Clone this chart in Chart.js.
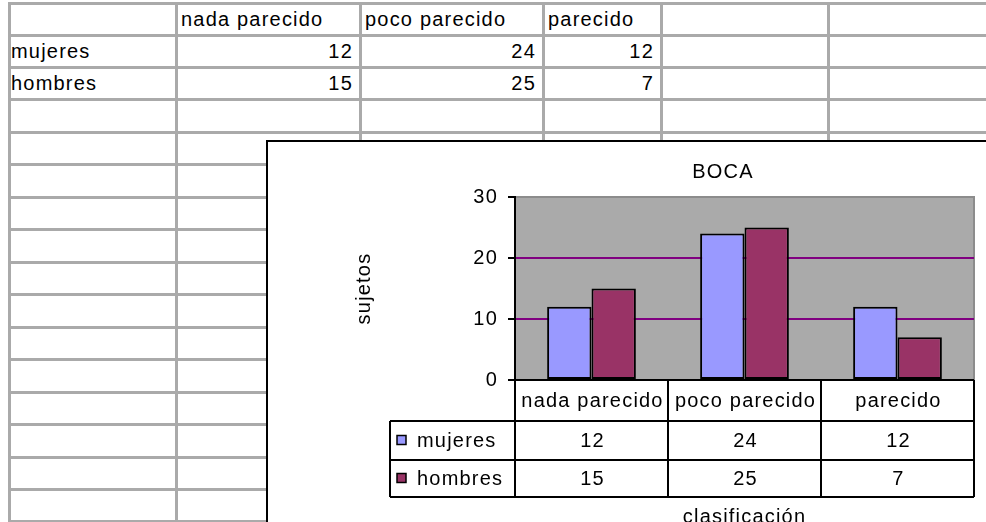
<!DOCTYPE html>
<html>
<head>
<meta charset="utf-8">
<script src="https://cdn.jsdelivr.net/npm/chart.js@4"></script>
<style>
html, body { margin: 0; padding: 0; background: #fff; overflow: hidden; width: 986px; height: 522px; }
body { position: relative; font-family: "Liberation Sans", Arial, sans-serif; font-size: 20px; letter-spacing: 1.2px; color: #000; }
.vl { position: absolute; top: 2px; width: 3px; height: 530px; background: #aaa; }
.hl { position: absolute; left: 8px; height: 3px; width: 990px; background: #aaa; }
.cell { position: absolute; white-space: nowrap; }
#chartBox { position: absolute; left: 266px; top: 140px; width: 730px; height: 400px; background: #fff;
            border-top: 2px solid #000; border-left: 2px solid #000; }
#chart { display: block; }
</style>
</head>
<body>
<div id="sheet"></div>
<div id="chartBox"><canvas id="chart" width="718" height="400"></canvas></div>
<script>
// ============================
// Data
// ============================
const categories  = ['nada parecido', 'poco parecido', 'parecido'];
const seriesNames = ['mujeres', 'hombres'];
const mujeres     = [12, 24, 12];
const hombres     = [15, 25, 7];
const yTicks      = [0, 10, 20, 30];
const chartTitle  = 'BOCA';
const yTitle      = 'sujetos';
const xTitle      = 'clasificación';

const FONT = '"Liberation Sans", Arial, sans-serif';
const FONT_SIZE = 20;
const colors = ['#9999ff', '#993366'];

// ============================
// Spreadsheet behind the chart
// ============================
const sheet = document.getElementById('sheet');
const colLines = [9, 176, 360, 543, 661, 828];
const rowLines = [3, 35, 67, 99, 132, 164, 197, 229, 262, 294, 327, 359, 392, 424, 457, 489, 521];

colLines.forEach(x => {
    const d = document.createElement('div');
    d.className = 'vl';
    d.style.left = (x - 1) + 'px';
    sheet.appendChild(d);
});
rowLines.forEach(y => {
    const d = document.createElement('div');
    d.className = 'hl';
    d.style.top = (y - 1) + 'px';
    sheet.appendChild(d);
});

// put text into cell (row, col), left or right aligned
function cell(row, col, text, align) {
    const d = document.createElement('div');
    d.className = 'cell';
    const top = rowLines[row] + 2, h = rowLines[row + 1] - rowLines[row] - 3;
    d.style.top = top + 'px';
    d.style.height = h + 'px';
    d.style.lineHeight = h + 'px';
    if (align === 'right') {
        d.style.right = (986 - colLines[col + 1] + 7) + 'px';
    } else {
        d.style.left = (colLines[col] + (col === 0 ? 2 : 5)) + 'px';
    }
    d.textContent = text;
    sheet.appendChild(d);
}
categories.forEach((c, i) => cell(0, i + 1, c, 'left'));
seriesNames.forEach((s, r) => cell(r + 1, 0, s, 'left'));
mujeres.forEach((v, i) => cell(1, i + 1, String(v), 'right'));
hombres.forEach((v, i) => cell(2, i + 1, String(v), 'right'));

// ============================
// Plugins
// ============================
const plotLook = {
    id: 'plotLook',
    beforeDraw(chart) {
        const {ctx, chartArea: a} = chart;
        ctx.letterSpacing = '1.2px';
        ctx.save();
        ctx.fillStyle = '#aaaaaa';
        ctx.fillRect(a.left, a.top, a.right - a.left, a.bottom - a.top);
        ctx.strokeStyle = '#8c8c8c';
        ctx.lineWidth = 2;
        ctx.strokeRect(a.left, a.top, a.right - a.left, a.bottom - a.top);
        ctx.restore();
    }
};

const titleText = {
    id: 'titleText',
    afterDraw(chart) {
        const ctx = chart.ctx;
        ctx.save();
        ctx.font = FONT_SIZE + 'px ' + FONT;
        ctx.fillStyle = '#000';
        ctx.textAlign = 'center';
        ctx.textBaseline = 'middle';
        ctx.fillText(chartTitle, 455, 30);
        ctx.restore();
    }
};

// data table under the plot, aligned to the category scale
const dataTable = {
    id: 'dataTable',
    afterDraw(chart) {
        const {ctx, chartArea: a} = chart;
        const x = chart.scales.x;
        const half = (x.getPixelForValue(1) - x.getPixelForValue(0)) / 2;
        const rows = [a.bottom, a.bottom + 41, a.bottom + 80, a.bottom + 117];
        const legendLeft = 122;
        const series = [mujeres, hombres];

        ctx.save();
        ctx.strokeStyle = '#000';
        ctx.lineWidth = 2;
        ctx.beginPath();
        ctx.moveTo(a.left, rows[0]); ctx.lineTo(a.right, rows[0]);
        for (let r = 1; r < 4; r++) { ctx.moveTo(legendLeft, rows[r]); ctx.lineTo(a.right, rows[r]); }
        ctx.moveTo(legendLeft, rows[1]); ctx.lineTo(legendLeft, rows[3]);
        ctx.moveTo(a.left, rows[0]); ctx.lineTo(a.left, rows[3]);
        categories.forEach((c, i) => {
            const right = x.getPixelForValue(i) + half;
            ctx.moveTo(right, rows[0]); ctx.lineTo(right, rows[3]);
        });
        ctx.stroke();

        ctx.font = FONT_SIZE + 'px ' + FONT;
        ctx.fillStyle = '#000';
        ctx.textAlign = 'center';
        ctx.textBaseline = 'middle';
        categories.forEach((c, i) => {
            const cx = x.getPixelForValue(i) + 1;
            ctx.fillText(c, cx, (rows[0] + rows[1]) / 2 + 1);
            series.forEach((s, r) => ctx.fillText(String(s[i]), cx, (rows[r + 1] + rows[r + 2]) / 2 + 1));
        });

        ctx.textAlign = 'left';
        seriesNames.forEach((name, r) => {
            const cy = (rows[r + 1] + rows[r + 2]) / 2;
            ctx.fillStyle = colors[r];
            ctx.fillRect(legendLeft + 7, cy - 5, 9, 9);
            ctx.lineWidth = 1.5;
            ctx.strokeRect(legendLeft + 7, cy - 5, 9, 9);
            ctx.fillStyle = '#000';
            ctx.fillText(name, legendLeft + 27, cy + 1);
        });
        ctx.restore();
    }
};

// ============================
// Chart
// ============================
const ctx = document.getElementById('chart').getContext('2d');
new Chart(ctx, {
    type: 'bar',
    data: {
        labels: categories,
        datasets: [
            { label: seriesNames[0], data: mujeres, backgroundColor: colors[0],
              borderColor: '#000', borderWidth: 2, borderSkipped: false },
            { label: seriesNames[1], data: hombres, backgroundColor: colors[1],
              borderColor: '#000', borderWidth: 2, borderSkipped: false }
        ]
    },
    options: {
        responsive: false,
        animation: false,
        devicePixelRatio: 1,
        categoryPercentage: 0.58,
        barPercentage: 1,
        layout: { padding: { left: 80, top: 55, right: 12, bottom: 0 } },
        scales: {
            x: {
                ticks: { display: false },
                grid: { display: false, drawTicks: false },
                border: { display: false },
                title: { display: true, text: xTitle, color: '#000',
                         font: { family: FONT, size: FONT_SIZE }, padding: { top: 0, bottom: 13 } },
                afterFit: (scale) => { scale.height = 162; }
            },
            y: {
                min: 0,
                max: 30,
                afterBuildTicks: (scale) => { scale.ticks = yTicks.map(v => ({ value: v })); },
                ticks: { color: '#000', font: { family: FONT, size: FONT_SIZE }, padding: 10 },
                grid: {
                    color: (c) => (c.tick && (c.tick.value === 10 || c.tick.value === 20)) ? '#800080' : 'rgba(0,0,0,0)',
                    lineWidth: 2,
                    tickColor: '#000',
                    tickLength: 7,
                    tickWidth: 2
                },
                border: { color: '#000', width: 2 },
                title: { display: true, text: yTitle, color: '#000',
                         font: { family: FONT, size: FONT_SIZE }, padding: { top: 4, bottom: 4 } },
                afterFit: (scale) => { scale.width = 167; }
            }
        },
        plugins: {
            legend: { display: false },
            tooltip: { enabled: false },
            title: { display: false }
        }
    },
    plugins: [plotLook, titleText, dataTable]
});
</script>
</body>
</html>
